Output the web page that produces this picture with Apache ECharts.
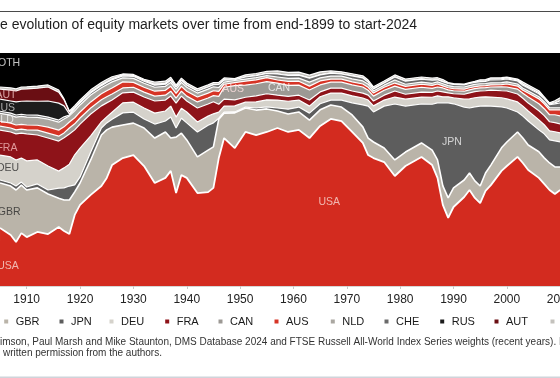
<!DOCTYPE html>
<html><head><meta charset="utf-8">
<script src="https://cdn.jsdelivr.net/npm/echarts@6/dist/echarts.min.js"></script>
<style>html,body{margin:0;padding:0;background:#fff}#c{width:560px;height:378px}</style>
</head><body><div id="c"></div>
<script>
const years = [1905,1907,1908,1909,1910,1912,1914,1916,1917,1918,1919,1920,1922,1924,1925,1926,1928,1930,1932,1934,1936,1937,1938,1939,1940,1942,1944,1945,1946,1947,1949,1951,1953,1955,1957,1959,1961,1963,1965,1967,1969,1971,1973,1974,1975,1977,1979,1981,1984,1986,1987,1988,1989,1990,1992,1993,1994,1995,1996,1997,1999,2000,2002,2003,2004,2006,2007,2008,2009,2010];

const USA = [24.9,21.9,18.9,22.7,21.0, 23.2,22.3,25.3,23.6,22.3, 30.5,34.8,39.1,42.9,46.4, 51.9,54.9,56.2,51.5,44.2, 46.4,49.4,39.9,47.6,46.4, 39.9,40.3,42.1,54.9,63.5, 59.2,66.1,64.8,66.1,67.8, 66.1,67.0,63.5,68.7,71.7, 70.8,66.1,61.4,56.2,54.9, 53.2,47.2,51.5,55.4,51.9, 46.4,34.8,29.2,33.9,38.2, 41.2,37.8,35.6,40.8,43.3, 49.4,51.5,55.4,52.8,49.8, 46.4,43.8,41.2,39.5,41.2];
const GBR = [19.3,21.0,22.3,20.6,20.2, 18.9,17.2,12.4,13.3,14.6, 9.9,9.4,15.0,21.9,20.6, 16.3,14.2,13.7,16.3,19.3, 19.7,14.1,24.0,18.0,16.3, 15.5,18.0,17.6,16.7,10.7, 15.1,10.3,10.7,9.9,7.3, 7.7,7.7,7.7,6.9,6.0, 6.0,7.3,6.9,7.3,6.9, 6.0,6.9,6.0,6.0,6.4, 7.7,8.2,8.6,8.2,7.3, 7.3,7.3,7.3,7.7,8.6, 9.9,10.3,10.7,10.7,10.7, 11.2,11.2,11.6,11.6,9.9];
const JPN = [1.3,1.3,1.7,1.3,1.3, 1.7,1.7,4.3,5.2,6.0, 3.0,2.6,3.4,3.0,3.0, 3.4,5.2,4.7,3.9,6.0, 4.7,9.0,3.9,6.4,7.3, 10.7,10.7,10.3,0.4,0.4, 0.4,0.4,0.9,0.9,1.3, 2.1,2.1,3.0,2.6,2.1, 3.0,5.2,9.4,13.7,12.9, 18.0,24.0,19.7,16.7,19.7, 24.5,35.6,40.8,36.1,31.3, 27.9,31.8,34.3,28.8,25.3, 17.6,14.6,8.6,9.4,10.3, 9.4,10.3,9.9,11.2,10.7];
const DEU = [10.7,11.2,11.2,10.3,11.2, 10.3,10.3,7.3,8.6,9.4, 12.9,12.4,6.9,2.6,2.6, 3.0,4.3,4.3,4.7,4.7, 4.3,4.7,4.7,4.3,4.7, 4.3,3.9,3.9,2.6,2.6, 2.6,2.1,2.6,3.0,3.4, 3.4,3.0,3.0,3.0,3.0, 3.0,3.0,3.0,2.6,2.6, 2.6,3.0,3.0,3.0,3.0, 3.0,2.6,2.6,2.6,3.4, 3.9,3.9,3.9,3.9,3.9, 3.9,3.9,4.3,4.3,4.3, 4.3,3.9,3.9,3.9,3.9];
const FRA = [10.7,10.7,11.2,10.7,11.6, 10.7,12.0,12.9,12.9,12.9, 10.7,10.3,9.4,6.9,6.0, 5.2,4.3,4.3,4.7,5.2, 4.7,4.3,6.0,5.2,4.7, 6.0,5.2,5.2,3.4,3.0, 2.6,2.1,2.6,2.6,2.1, 2.1,2.1,2.6,2.1,2.1, 2.1,2.1,2.1,2.1,2.1, 2.1,2.6,2.1,2.1,2.1, 2.1,2.1,1.7,1.7,2.1, 2.6,2.6,2.6,2.6,3.0, 3.0,3.4,3.4,3.4,3.4, 3.9,3.9,3.9,3.9,3.9];
const CAN = [1.7,1.7,1.7,1.7,1.7, 2.1,2.1,2.1,2.1,2.6, 2.6,2.6,2.6,2.6,2.6, 2.6,2.1,2.1,2.1,2.1, 2.1,2.1,2.1,2.1,2.1, 2.6,2.6,2.6,3.4,5.1, 6.1,5.2,5.2,5.2,5.2, 4.7,4.3,4.3,3.0,2.6, 2.6,2.6,2.6,2.1,2.1, 2.1,2.1,2.1,2.1,1.7, 1.7,1.7,1.3,1.3,1.3, 1.3,1.3,1.3,1.3,1.3, 1.7,1.7,2.1,2.1,2.6, 3.0,3.0,3.0,3.4,3.4];
const AUS = [2.1,2.1,2.1,2.1,2.1, 2.1,2.6,2.6,2.6,2.6, 2.6,2.6,2.6,2.6,2.6, 2.6,2.6,2.1,2.1,2.1, 2.1,2.1,2.1,2.1,2.1, 2.1,2.1,2.1,2.1,1.3, 1.3,1.7,1.7,1.7,1.3, 1.7,1.7,1.7,1.7,1.3, 1.3,1.3,1.3,1.3,1.3, 1.3,1.3,1.3,1.3,1.3, 1.3,0.9,0.9,0.9,0.9, 0.9,0.9,0.9,0.9,0.9, 0.9,1.3,1.3,1.3,1.7, 2.1,2.1,2.1,2.1,2.6];
const NLD = [3.4,3.4,3.4,3.4,3.4, 3.4,3.4,3.4,3.4,2.6, 3.0,3.0,3.0,2.6,2.6, 2.6,1.7,1.7,1.7,1.7, 1.7,1.7,1.7,1.7,1.7, 1.7,1.7,1.7,1.7,0.9, 0.9,0.9,0.9,0.9,1.3, 1.3,1.3,1.7,1.3,1.3, 1.3,1.3,1.3,1.3,0.9, 0.9,1.3,0.9,0.9,0.9, 0.9,0.9,0.9,0.9,0.9, 0.9,0.9,0.9,0.9,0.9, 0.9,0.9,0.9,0.9,0.9, 0.9,0.9,0.9,0.9,0.9];
const CHE = [0.9,0.9,0.9,0.9,0.9, 0.9,0.9,0.9,0.9,0.4, 0.9,0.9,0.9,0.9,0.9, 0.9,0.9,0.9,0.9,0.9, 0.9,0.9,0.9,0.9,0.9, 0.9,0.9,0.9,1.3,0.9, 0.4,0.9,0.9,0.9,1.3, 1.3,1.3,1.7,1.3,1.3, 0.9,1.3,1.3,0.9,0.9, 0.9,1.3,1.3,1.3,1.3, 0.9,0.9,0.9,0.9,0.9, 0.9,0.9,0.9,0.9,1.3, 1.3,1.3,1.3,1.3,1.3, 1.3,1.3,1.3,1.7,2.1];
const RUS = [5.2,5.2,5.6,5.6,6.0, 6.0,6.9,7.3,4.7,0.4, 0,0,0,0,0, 0,0,0,0,0, 0,0,0,0,0, 0,0,0,0,0, 0,0,0,0,0, 0,0,0,0,0, 0,0,0,0,0, 0,0,0,0,0, 0,0,0,0,0, 0,0,0.4,0.4,0.4, 0.4,0.4,0.4,0.4,0.4, 0.4,0.4,0.4,0.4,0.9];
const AUT = [4.3,4.7,4.7,5.2,5.2, 5.6,6.0,4.7,2.6,0.9, 0.4,0.4,0.4,0.4,0.4, 0.4,0.4,0.4,0.4,0.4, 0.4,0.4,0,0,0, 0,0,0,0,0, 0,0,0,0,0, 0,0,0,0,0, 0,0,0,0,0, 0,0,0,0,0, 0,0,0,0,0, 0,0,0,0,0, 0,0,0,0,0, 0,0,0,0,0];
const BEL = [0.9,0.9,0.9,0.9,0.9, 0.9,0.9,0.9,0.4,0.4, 0.9,0.9,0.9,0.9,0.9, 0.9,0.4,0.4,0.4,0.9, 0.9,0.9,0.9,0.9,0.9, 0.9,0.9,0.9,0.9,0.9, 0.4,0.9,0.9,0.9,1.3, 1.3,1.3,1.3,1.3,0.9, 0.9,0.9,0.9,0.9,0.9, 0.9,0.9,0.9,0.9,0.9, 0.9,0.9,0.4,0.4,0.4, 0.4,0.4,0.4,0.4,0.4, 0.4,0.4,0.4,0.9,0.9, 0.9,0.4,0.4,0.9,1.3];
const OTH = [14.6,15.0,15.5,14.6,14.6, 14.2,13.7,15.9,19.7,24.9, 22.7,20.2,15.9,12.9,11.6, 10.3,9.0,9.0,11.2,12.4, 12.0,10.3,13.7,10.7,12.9, 15.5,13.7,12.9,12.4,10.7, 11.2,9.4,9.0,8.2,7.7, 8.2,8.2,9.4,8.2,7.7, 8.2,9.0,9.9,11.6,14.6, 12.0,9.4,11.2,10.3,10.7, 10.7,11.6,12.9,13.3,13.3, 12.9,12.4,11.6,11.6,10.7, 10.7,10.3,11.2,12.4,13.7, 16.3,18.9,21.5,20.6,19.3];

const seriesNames = ['USA','GBR','JPN','DEU','FRA','CAN','AUS','NLD','CHE','RUS','AUT','BEL','OTH'];
const seriesValues = {USA, GBR, JPN, DEU, FRA, CAN, AUS, NLD, CHE, RUS, AUT, BEL, OTH};

const labelNames = ['OTH','AUT','RUS','NLD','FRA','DEU','GBR','USA','AUS','CAN','USA','JPN'];
const labelYears = [1906.7,1906.1,1905.75,1905.6,1906.3,1906.5,1906.7,1906.5,1948.7,1957.3,1966.7,1989.7];
const labelLevels = [95.7,82.0,76.4,71.2,59.2,50.6,31.8,8.6,84.3,85.0,36.0,61.8];

const titleText = 'e evolution of equity markets over time from end-1899 to start-2024';
const sourceLine1 = 'imson, Paul Marsh and Mike Staunton, DMS Database 2024 and FTSE Russell All-World Index Series weights (recent years). Not';
const sourceLine2 = 'written permission from the authors.';

const FONT = '"Liberation Sans", Arial, sans-serif';
const bandColors = {USA:'#d32b1f', GBR:'#bab4a9', JPN:'#5d5d5d', DEU:'#d5d2cb', FRA:'#8e1319', CAN:'#9c9994', AUS:'#d63426', NLD:'#aaa7a1', CHE:'#6a6a6a', RUS:'#1c1c1c', AUT:'#6a0e13', BEL:'#c4c2bd', OTH:'#000000'};
const lineWidths = {USA: 1.8, GBR: 1.6, OTH: 0};
const labelColors = {OTH:'#f2f2f2', AUT:'#f0c4c4', RUS:'#d0d0d0', NLD:'#f4f4f4', FRA:'#f4b9b9', DEU:'#2a2a2a', GBR:'#2a2a2a', USA:'#f8d8d2', AUS:'#fde0e0', CAN:'#f4f4f4', JPN:'#f0f0f0'};
// legend marker centres (layout, px)
const legendMarkerX = [-46.3, 8.7, 64, 114, 169.7, 223, 279, 335.3, 389, 444.7, 499, 555, 610];

// cumulative (stacked) shares: each band is drawn from 0 up to its running total,
// lower bands are painted above the higher ones.
const cumulative = {};
let running = years.map(() => 0);
seriesNames.forEach(n => {
  running = running.map((v, i) => Math.round((v + seriesValues[n][i]) * 100) / 100);
  cumulative[n] = running;
});

const chart = echarts.init(document.getElementById('c'), null, {renderer: 'canvas'});

const series = seriesNames.map((n, k) => ({
  name: n, type: 'line', symbol: 'none', z: 20 - k,
  data: years.map((y, i) => [y, cumulative[n][i]]),
  itemStyle: {color: bandColors[n]},
  lineStyle: {color: '#ffffff', width: n in lineWidths ? lineWidths[n] : 1.2},
  areaStyle: {color: bandColors[n], opacity: 1, origin: 'start'},
  emphasis: {disabled: true},
  animation: false
}));

series.push({
  name: 'labels', type: 'scatter', symbolSize: 0, z: 40, silent: true,
  data: labelNames.map((n, i) => ({name: n, value: [labelYears[i], labelLevels[i]], label: {color: labelColors[n]}})),
  label: {show: true, position: 'inside', formatter: p => p.name, fontSize: 10.5, fontFamily: FONT}
});

const legends = seriesNames.map((n, k) => ({
  data: [{name: n, itemStyle: {color: bandColors[n], borderWidth: 0}}],
  icon: 'path://M0 0H10V10H0Z', itemWidth: 9, itemHeight: 4,
  left: legendMarkerX[k] - 4.5, top: 316, padding: 0, selectedMode: false,
  textStyle: {fontSize: 11, color: '#1a1a1a', fontFamily: FONT}
}));

chart.setOption({
  animation: false,
  backgroundColor: '#ffffff',
  title: {text: titleText, left: 0, top: 18, padding: 0,
    textStyle: {fontSize: 14, fontWeight: 'normal', color: '#1e1e1e', fontFamily: FONT}},
  legend: legends,
  grid: {left: -26.65, right: -74.9, top: 53, bottom: 92, show: true, backgroundColor: '#000', borderWidth: 0,
    containLabel: false, outerBoundsMode: 'none'},
  xAxis: {type: 'value', min: 1900, max: 2024, interval: 10,
    axisLine: {show: true, lineStyle: {color: '#c8c8c8', width: 1.5}},
    axisTick: {show: true, length: 3, lineStyle: {color: '#c8c8c8'}},
    axisLabel: {fontSize: 12, color: '#222', margin: 8, fontFamily: FONT, formatter: v => String(v)},
    splitLine: {show: false}},
  yAxis: {type: 'value', min: 0, max: 100, show: false},
  series: series,
  graphic: [
    {type: 'rect', shape: {x: 0, y: 11, width: 560, height: 1}, style: {fill: '#4a4a4a'}},
    {type: 'rect', shape: {x: 0, y: 376.5, width: 560, height: 1.5}, style: {fill: '#cfd4da'}},
    {type: 'text', x: 0, y: 342, style: {text: sourceLine1, fontSize: 10, fill: '#333', fontFamily: FONT, verticalAlign: 'middle'}},
    {type: 'text', x: 3, y: 353.5, style: {text: sourceLine2, fontSize: 10, fill: '#333', fontFamily: FONT, verticalAlign: 'middle'}}
  ]
});
</script></body></html>
